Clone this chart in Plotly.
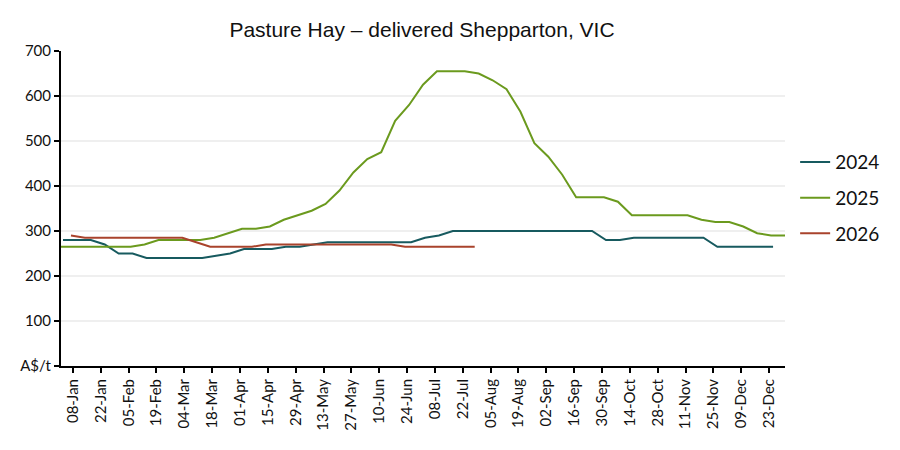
import pandas as pd
import plotly.graph_objects as go

# weekly prices, A$/t (all years drawn on a common Jan-Dec calendar)
hay_2024 = [280, 280, 280, 270, 250, 250, 240, 240, 240, 240, 240, 245, 250,
            260, 260, 260, 265, 265, 270, 275, 275, 275, 275, 275, 275, 275,
            285, 290, 300, 300, 300, 300, 300, 300, 300, 300, 300, 300, 300,
            280, 280, 285, 285, 285, 285, 285, 285, 265, 265, 265, 265, 265]
hay_2025 = [265, 265, 265, 265, 265, 265, 270, 280, 280, 280, 280, 285, 295,
            305, 305, 310, 325, 335, 345, 360, 390, 430, 460, 475, 545, 580,
            625, 655, 655, 655, 650, 635, 615, 565, 495, 465, 425, 375, 375,
            375, 365, 335, 335, 335, 335, 335, 325, 320, 320, 310, 295, 290, 290]
hay_2026 = [290, 285, 285, 285, 285, 285, 285, 285, 285, 275, 265, 265, 265,
            265, 270, 270, 270, 270, 270, 270, 270, 270, 270, 270, 265, 265,
            265, 265, 265, 265]

dates_2024 = pd.date_range("2024-01-03", periods=len(hay_2024), freq="7D")
dates_2025 = pd.date_range("2024-01-02", periods=len(hay_2025), freq="7D")
dates_2026 = pd.date_range("2024-01-07", periods=len(hay_2026), freq="7D")

tick_dates = pd.date_range("2024-01-08", "2024-12-23", freq="14D")
y_ticks = [0, 100, 200, 300, 400, 500, 600, 700]
y_labels = ["A$/t"] + [str(v) for v in y_ticks[1:]]

series = [
    ("2024", dates_2024, hay_2024, "#175a5f"),
    ("2025", dates_2025, hay_2025, "#6b9a1e"),
    ("2026", dates_2026, hay_2026, "#a9432c"),
]

fig = go.Figure()
for name, x, y, colour in series:
    fig.add_trace(go.Scatter(x=x, y=y, name=name, mode="lines", legendgroup=name,
                             line=dict(color=colour, width=2)))

# page body adds an 8px offset, so margins are trimmed to compensate
fig.update_layout(
    width=900, height=450,
    paper_bgcolor="white", plot_bgcolor="white",
    margin=dict(l=53, r=123, t=43, b=92),
    title=dict(text="Pasture Hay \u2013 delivered Shepparton, VIC",
               xref="container", x=0.46, xanchor="center",
               yref="container", y=0.951, yanchor="middle",
               font=dict(family="Liberation Sans, Arial", size=21, color="#111")),
    font=dict(family="Lato", size=15, color="#111"),
    legend=dict(x=1.014, xanchor="left", y=0.533, yanchor="middle",
                font=dict(size=19), tracegroupgap=8, itemwidth=30),
    showlegend=True,
)

fig.update_xaxes(
    type="date", range=["2024-01-02", "2024-12-31"],
    tickvals=tick_dates, tickformat="%d-%b", tickangle=-90,
    showline=True, linecolor="black", linewidth=2,
    ticks="outside", ticklen=5, tickwidth=2, tickcolor="black",
    showgrid=False, zeroline=False, automargin=False,
)
fig.update_yaxes(
    range=[0, 700], tickvals=y_ticks, ticktext=y_labels,
    showline=True, linecolor="black", linewidth=2,
    ticks="outside", ticklen=5, tickwidth=2, tickcolor="black",
    showgrid=True, gridcolor="#efefef", gridwidth=2, zeroline=False,
    automargin=False,
)

fig.write_html("out.html")
